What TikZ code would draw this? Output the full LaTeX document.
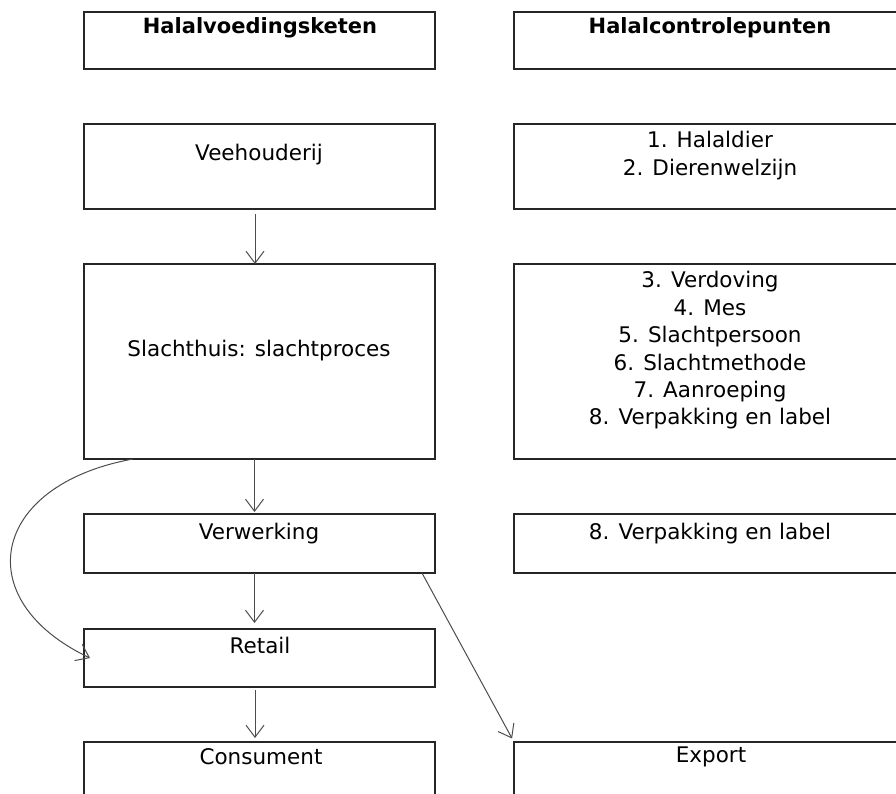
\documentclass[tikz,border=0pt]{standalone}
\usepackage{fontspec}
\setmainfont{DejaVu Sans}
\usetikzlibrary{arrows.meta}
\begin{document}
\begin{tikzpicture}[x=1pt,y=-1pt,
  box/.style={draw=black!85, line width=1.3pt, inner sep=0pt, outer sep=0pt},
  lbox/.style={box, minimum width=351pt},
  rbox/.style={box, minimum width=392pt},
  txt/.style={inner sep=0pt, align=center, font=\fontsize{21.5}{27.4}\selectfont},
  htxt/.style={txt, font=\fontsize{21}{27.4}\selectfont\bfseries},
  arr/.style={draw=black!70, line width=1pt, -{Straight Barb[length=12pt,width=18pt]}}]
\useasboundingbox (0,0) rectangle (896,793);
\clip (0,0) rectangle (896,793);
% boxes
\node[lbox, minimum height=57pt] (hL) at (259.5,40.5) {};
\node[rbox, minimum height=57pt] (hR) at (710,40.5) {};
\node[lbox, minimum height=85pt] (vL) at (259.5,166.5) {};
\node[rbox, minimum height=85pt] (vR) at (710,166.5) {};
\node[lbox, minimum height=195pt] (sL) at (259.5,361.5) {};
\node[rbox, minimum height=195pt] (sR) at (710,361.5) {};
\node[lbox, minimum height=59pt] (wL) at (259.5,543.5) {};
\node[rbox, minimum height=59pt] (wR) at (710,543.5) {};
\node[lbox, minimum height=58pt] (rL) at (259.5,658) {};
\node[lbox, minimum height=68pt] (cL) at (259.5,776) {};
\node[rbox, minimum height=68pt] (eR) at (710,776) {};
% texts
\node[htxt] (thL) at (260,28) {Halalvoedingsketen};
\node[htxt] (thR) at (710,28) {Halalcontrolepunten};
\node[txt] (tvL) at (259,155) {Veehouderij};
\node[txt] (tvR) at (710,155.5) {1. Halaldier\\2. Dierenwelzijn};
\node[txt] (tsL) at (259,351) {Slachthuis: slachtproces};
\node[txt] (tsR) at (710,350.5) {3. Verdoving\\4. Mes\\5. Slachtpersoon\\6. Slachtmethode\\7. Aanroeping\\8. Verpakking en label};
\node[txt] (twL) at (259,534) {Verwerking};
\node[txt] (twR) at (710,534) {8. Verpakking en label};
\node[txt] (trL) at (260,645) {Retail};
\node[txt] (tcL) at (261,757) {Consument};
\node[txt] (teR) at (711,757) {Export};
% arrows
\draw[arr, shorten <=5pt] ([xshift=-4.5pt]vL.south) -- ([xshift=-4.5pt]sL.north);
\draw[arr, shorten >=2pt] ([xshift=-5pt]sL.south) -- ([xshift=-5pt]wL.north);
\draw[arr, shorten >=6pt] ([xshift=-5pt]wL.south) -- ([xshift=-5pt]rL.north);
\draw[arr, shorten <=3pt, shorten >=4pt] ([xshift=-4.5pt]rL.south) -- ([xshift=-4.5pt]cL.north);
\draw[arr] ([xshift=-126.5pt]sL.south) .. controls (-10,485) and (-32,600) .. ([xshift=6pt]rL.west);
\draw[arr, shorten >=4pt] ([xshift=162.5pt]wL.south) -- (eR.north west);
\end{tikzpicture}
\end{document}
